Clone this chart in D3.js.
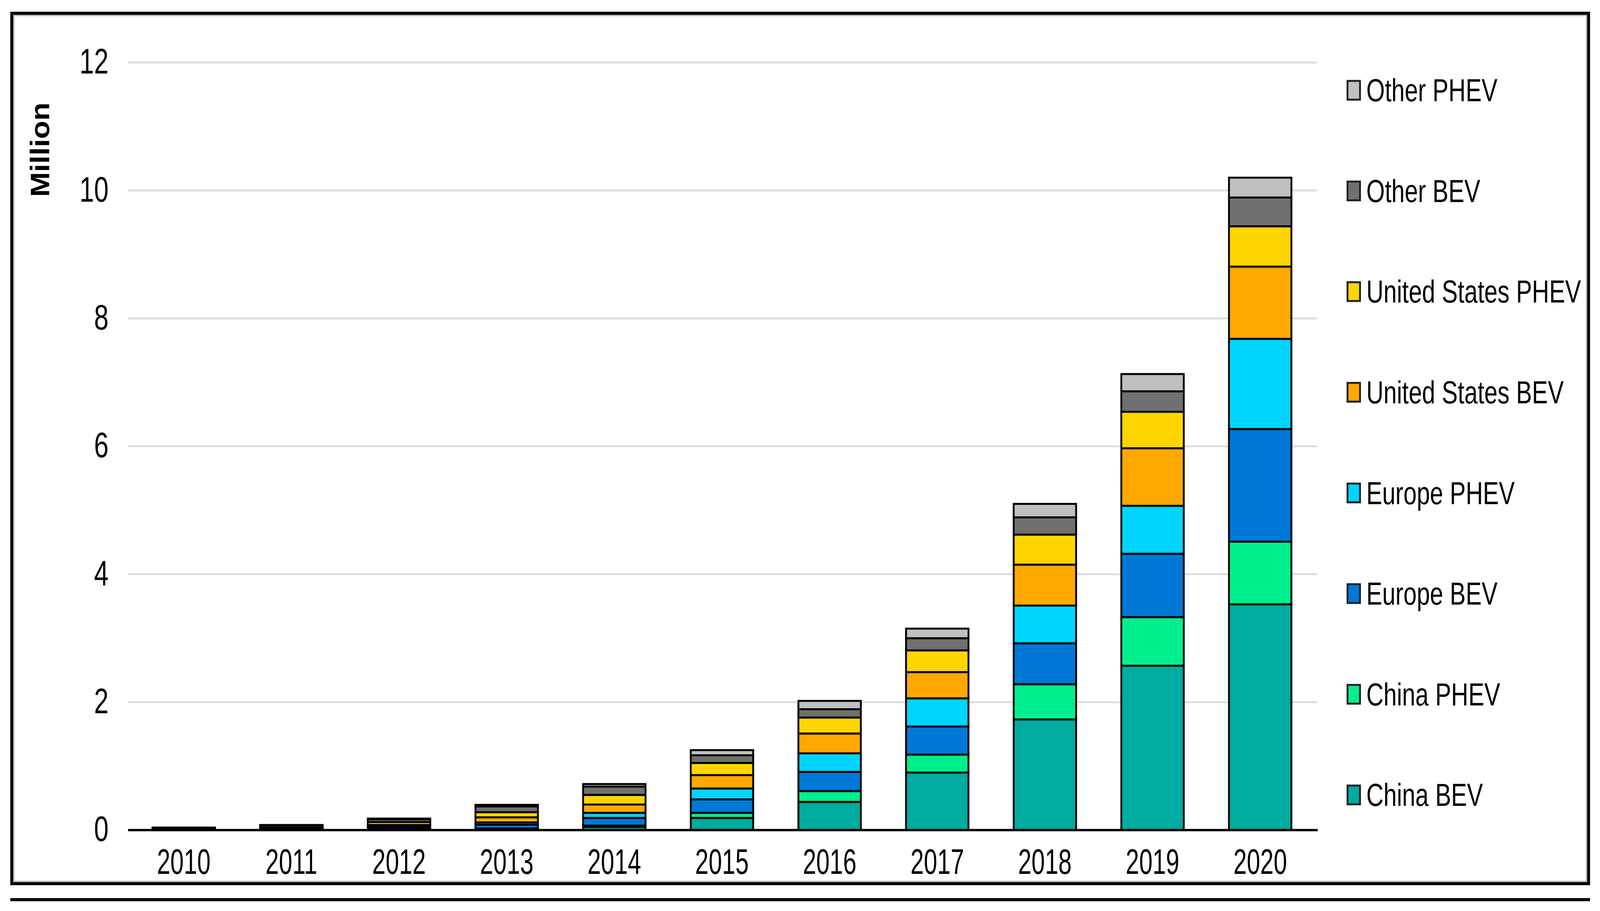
<!DOCTYPE html>
<html>
<head>
<meta charset="utf-8">
<script src="https://cdn.jsdelivr.net/npm/d3@7"></script>
<style>
  html, body { margin: 0; padding: 0; background: #ffffff; width: 100%; height: 100%; overflow: hidden; }
  svg { display: block; width: 100vw; height: 100vh; }
  text { font-family: "Liberation Sans", Arial, sans-serif; fill: #000; }
</style>
</head>
<body>
<svg id="chart" viewBox="0 0 4347 2331" preserveAspectRatio="none"></svg>
<script>
// ---------------- DATA ----------------
const years = ["2010","2011","2012","2013","2014","2015","2016","2017","2018","2019","2020"];
const seriesNames = ["China BEV","China PHEV","Europe BEV","Europe PHEV","United States BEV","United States PHEV","Other BEV","Other PHEV"];
const chinaBEV    = [0.002, 0.006, 0.012, 0.020, 0.050, 0.190, 0.440, 0.900, 1.730, 2.570, 3.530];
const chinaPHEV   = [0.001, 0.001, 0.003, 0.005, 0.020, 0.080, 0.170, 0.280, 0.550, 0.760, 0.980];
const europeBEV   = [0.005, 0.012, 0.030, 0.060, 0.120, 0.210, 0.300, 0.440, 0.640, 0.990, 1.760];
const europePHEV  = [0.001, 0.002, 0.010, 0.035, 0.080, 0.170, 0.290, 0.440, 0.590, 0.750, 1.410];
const usBEV       = [0.004, 0.013, 0.025, 0.080, 0.130, 0.210, 0.310, 0.410, 0.640, 0.900, 1.130];
const usPHEV      = [0.003, 0.009, 0.045, 0.080, 0.150, 0.190, 0.250, 0.340, 0.470, 0.570, 0.630];
const otherBEV    = [0.021, 0.033, 0.045, 0.090, 0.130, 0.120, 0.130, 0.190, 0.270, 0.320, 0.450];
const otherPHEV   = [0.003, 0.004, 0.010, 0.025, 0.040, 0.080, 0.130, 0.150, 0.210, 0.270, 0.310];
const yTicks = [0, 2, 4, 6, 8, 10, 12];
const yLabel = "Million";

// ---------------- STYLE ----------------
const seriesColors = ["#00ab9f","#00ef8e","#0078d7","#00d4ff","#ffa800","#ffd500","#707070","#c0c0c0"];

// ---------------- BUILD ----------------
const seriesValues = [chinaBEV, chinaPHEV, europeBEV, europePHEV, usBEV, usPHEV, otherBEV, otherPHEV];
const table = years.map((y, i) => {
  const row = { year: y };
  seriesNames.forEach((s, k) => { row[s] = seriesValues[k][i]; });
  return row;
});
const stacked = d3.stack().keys(seriesNames)(table);
const color = d3.scaleOrdinal().domain(seriesNames).range(seriesColors);

const svg = d3.select("#chart");
svg.append("rect").attr("x", 0).attr("y", 0).attr("width", 4347).attr("height", 2331).attr("fill", "#fff");

// frame
svg.append("rect").attr("x", 32).attr("y", 34).attr("width", 4284).attr("height", 2227)
  .attr("fill", "none").attr("stroke", "#000").attr("stroke-width", 8);
svg.append("rect").attr("x", 38).attr("y", 40).attr("width", 4272).attr("height", 2215)
  .attr("fill", "none").attr("stroke", "#9a9a9a").attr("stroke-width", 2);
svg.append("line").attr("x1", 28).attr("x2", 4320).attr("y1", 2302).attr("y2", 2302)
  .attr("stroke", "#000").attr("stroke-width", 8);

const x = d3.scaleBand().domain(years).range([353, 3570]).paddingInner(0.42).paddingOuter(0.21);
const y = d3.scaleLinear().domain([0, 12]).range([2124, 160]);

// gridlines
svg.append("g").selectAll("line").data(yTicks.filter(t => t !== 0)).join("line")
  .attr("x1", 348).attr("x2", 3578)
  .attr("y1", d => y(d)).attr("y2", d => y(d))
  .attr("stroke", "#dcdcdc").attr("stroke-width", 5);

// y tick labels
svg.append("g").selectAll("text").data(yTicks).join("text")
  .attr("transform", d => `translate(295,${y(d) - 3}) scale(0.78,1)`)
  .attr("text-anchor", "end").attr("dominant-baseline", "central")
  .attr("font-size", 91).text(d => d);

// y axis title
svg.append("text")
  .attr("transform", `translate(${109},${383}) rotate(-90) scale(1.06,1)`)
  .attr("text-anchor", "middle").attr("dominant-baseline", "central")
  .attr("font-size", 72).attr("font-weight", "bold").text(yLabel);

// bars
svg.append("g").selectAll("g").data(stacked).join("g")
  .attr("fill", d => color(d.key))
  .selectAll("rect").data(d => d).join("rect")
  .attr("x", d => x(d.data.year))
  .attr("width", x.bandwidth())
  .attr("y", d => y(d[1]))
  .attr("height", d => Math.max(0, y(d[0]) - y(d[1])))
  .attr("stroke", "#000").attr("stroke-width", 5);

// x axis line
svg.append("line").attr("x1", 348).attr("x2", 3580).attr("y1", y(0)).attr("y2", y(0))
  .attr("stroke", "#000").attr("stroke-width", 6);

// x tick labels
svg.append("g").selectAll("text").data(years).join("text")
  .attr("transform", d => `translate(${x(d) + x.bandwidth() / 2},2204) scale(0.72,1)`)
  .attr("text-anchor", "middle").attr("dominant-baseline", "central")
  .attr("font-size", 91).text(d => d);

// legend (top to bottom: reversed series order)
const legendOrder = seriesNames.slice().reverse();
const ly = d3.scalePoint().domain(legendOrder).range([231, 2034]);
const lg = svg.append("g").selectAll("g").data(legendOrder).join("g")
  .attr("transform", d => `translate(0,${ly(d)})`);
lg.append("rect").attr("x", 3661).attr("y", -24).attr("width", 34).attr("height", 48)
  .attr("fill", d => color(d)).attr("stroke", "#222").attr("stroke-width", 5);
lg.append("text")
  .attr("transform", "translate(3712,0) scale(0.8,1)")
  .attr("dominant-baseline", "central")
  .attr("font-size", 81).text(d => d);
</script>
</body>
</html>
